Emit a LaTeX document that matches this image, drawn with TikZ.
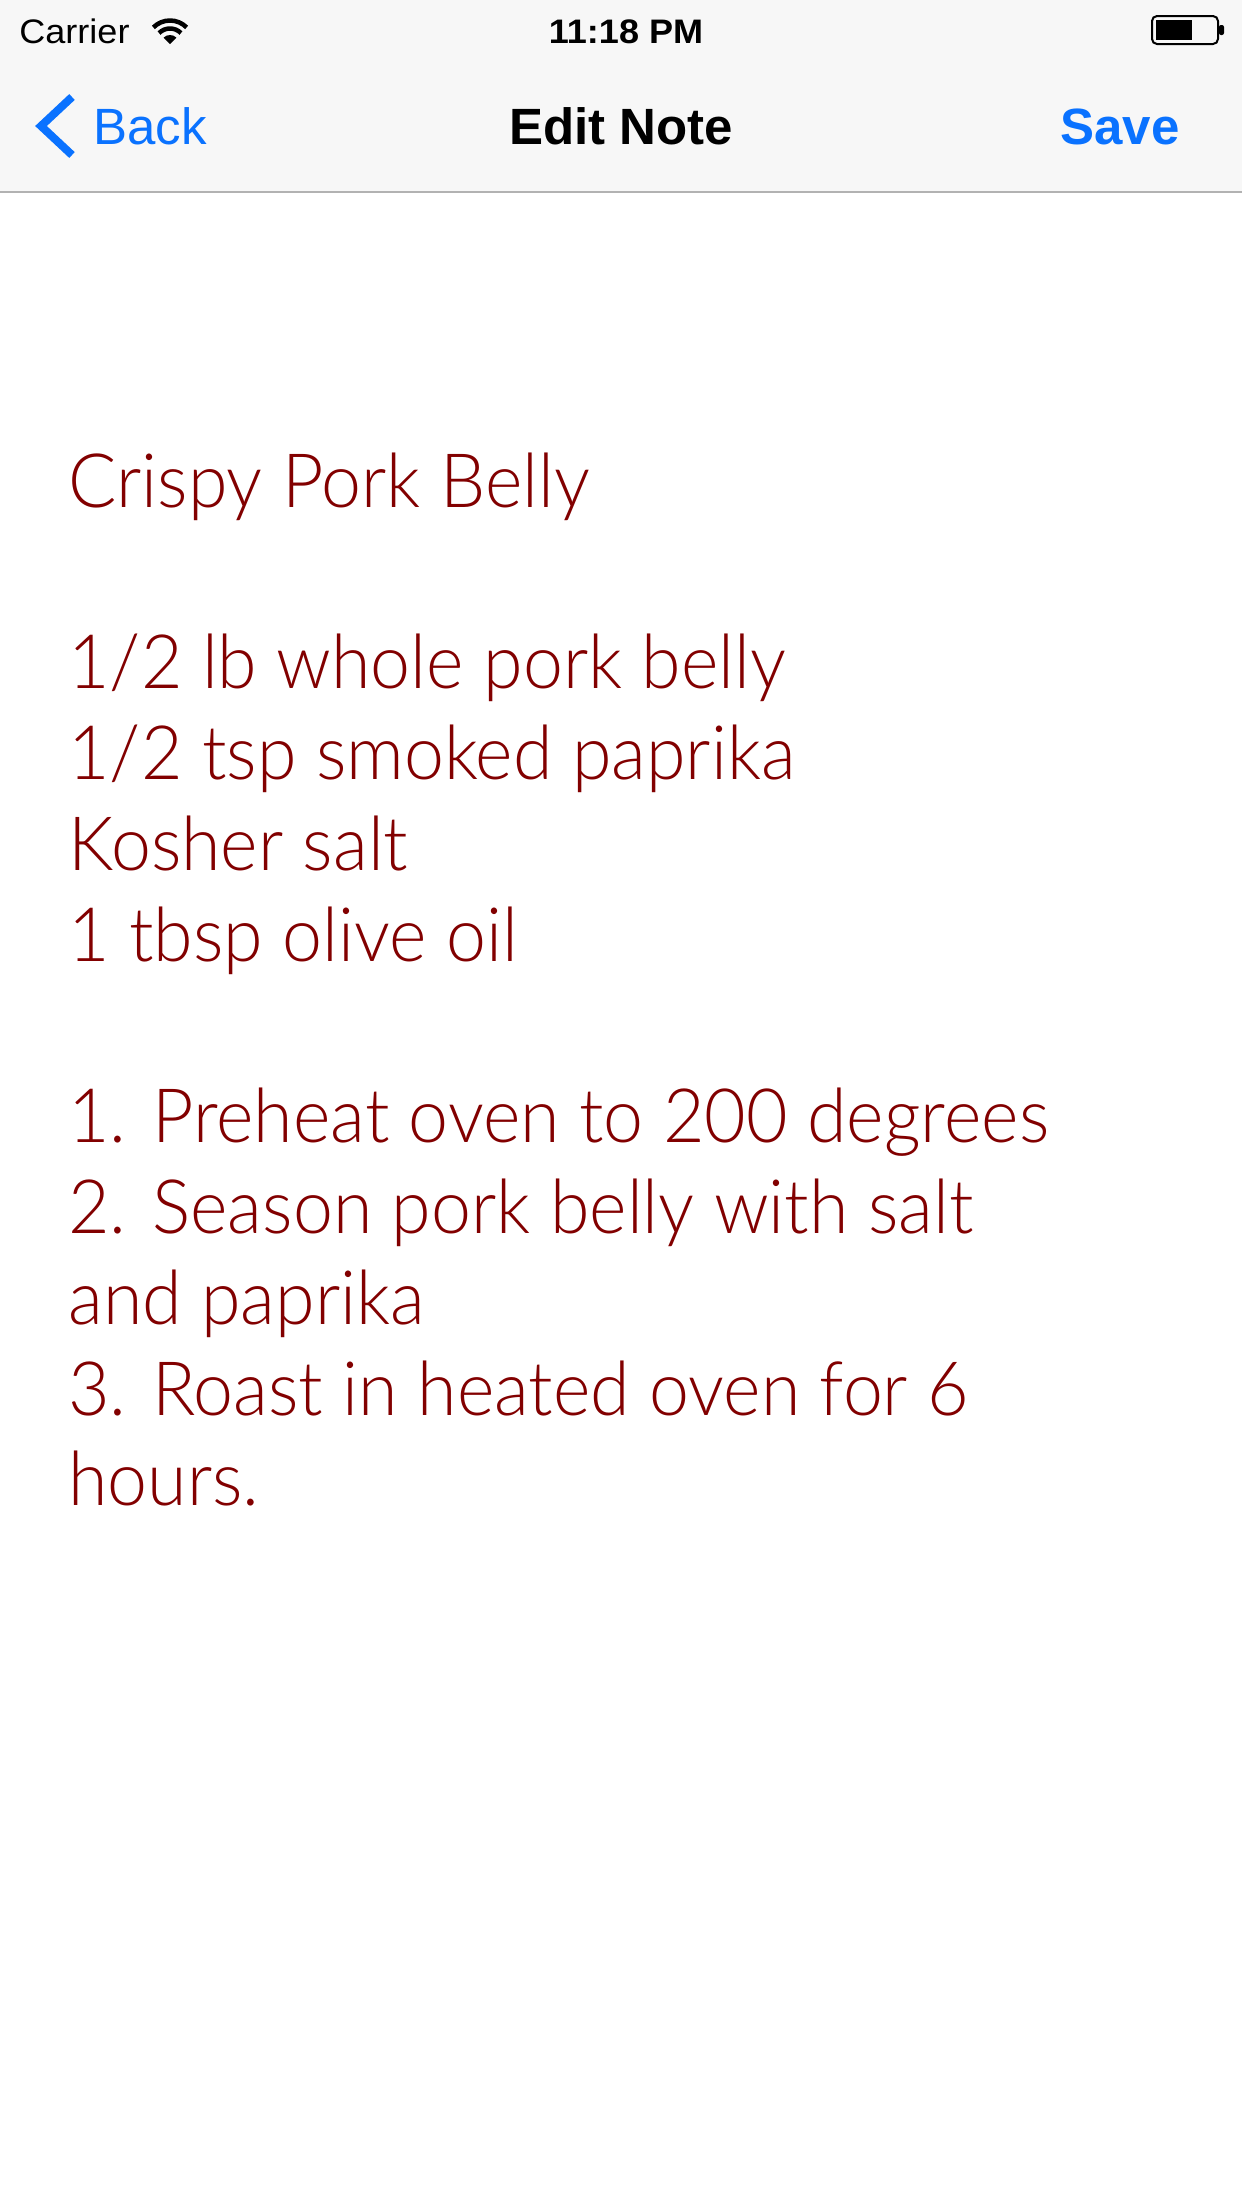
\documentclass[tikz,border=0pt]{standalone}
\usepackage{fontspec}
\setmainfont{Liberation Sans}
\newfontfamily\bodyfont{Lato Light}[FakeStretch=0.955]
\newfontfamily\statfont{Liberation Sans}[FakeStretch=1.06]
\definecolor{navbg}{HTML}{F7F7F7}
\definecolor{navline}{HTML}{B2B2B2}
\definecolor{iosblue}{HTML}{0A72FF}
\definecolor{notered}{HTML}{820000}
\begin{document}
\begin{tikzpicture}[x=0.5pt,y=-0.5pt,
  status/.style={font=\statfont\fontsize{17pt}{20pt}\selectfont, inner sep=0pt, text=black},
  statusbold/.style={font=\statfont\bfseries\fontsize{17pt}{20pt}\selectfont, inner sep=0pt, text=black},
  navtxt/.style={font=\fontsize{25.5pt}{30pt}\selectfont, inner sep=0pt},
  navbold/.style={font=\bfseries\fontsize{25.5pt}{30pt}\selectfont, inner sep=0pt},
  body/.style={font=\bodyfont\fontsize{37.5pt}{45pt}\selectfont, text=notered, inner sep=0pt, anchor=base west}]
\useasboundingbox (0,0) rectangle (1242,2208);
\fill[white] (0,0) rectangle (1242,2208);
\fill[navbg] (0,0) rectangle (1242,192);
\draw[navline, line width=0.75pt] (0,192) -- (1242,192);
% status bar
\node[status, anchor=base west] (carrier) at (19,43) {Carrier};
\node[statusbold, anchor=base] (time) at (626,43) {11:18 PM};
\coordinate (wific) at (170,44);
\begin{scope}[shift={(wific)}, x=0.5pt, y=0.5pt]
  \fill (0,0) -- (45:9) arc[start angle=45, end angle=135, radius=9] -- cycle;
  \draw[line width=2.25pt] (45:15.5) arc[start angle=45, end angle=135, radius=15.5];
  \draw[line width=2.25pt] (45:23.5) arc[start angle=45, end angle=135, radius=23.5];
\end{scope}
\draw[line width=1pt, rounded corners=2.5pt] (1152,16) rectangle (1218,44);
\fill (1156,20) rectangle (1192,40);
\fill[rounded corners=1pt] (1219,25) rectangle (1224,35);
% nav bar
\draw[iosblue, line width=4pt, line join=miter] (72,97) -- (41,126) -- (72,155);
\node[navtxt, text=iosblue, anchor=base west] (back) at (93,144) {Back};
\node[navbold, text=black, anchor=base] (title) at (621,144) {Edit Note};
\node[navbold, text=iosblue, anchor=base east] (save) at (1180,144) {Save};
% body
\node[body] (l1) at (68,507) {Crispy Pork Belly};
\node[body] (l2) at (68,688.6) {1/2 lb whole pork belly};
\node[body] (l3) at (68,779.4) {1/2 tsp smoked paprika};
\node[body] (l4) at (68,870.2) {Kosher salt};
\node[body] (l5) at (68,961) {1 tbsp olive oil};
\node[body] (l6) at (68,1142.6) {1. Preheat oven to 200 degrees};
\node[body] (l7) at (68,1233.4) {2. Season pork belly with salt};
\node[body] (l8) at (68,1324.2) {and paprika};
\node[body] (l9) at (68,1415) {3. Roast in heated oven for 6};
\node[body] (l10) at (68,1505.8) {hours.};
\end{tikzpicture}
\end{document}
